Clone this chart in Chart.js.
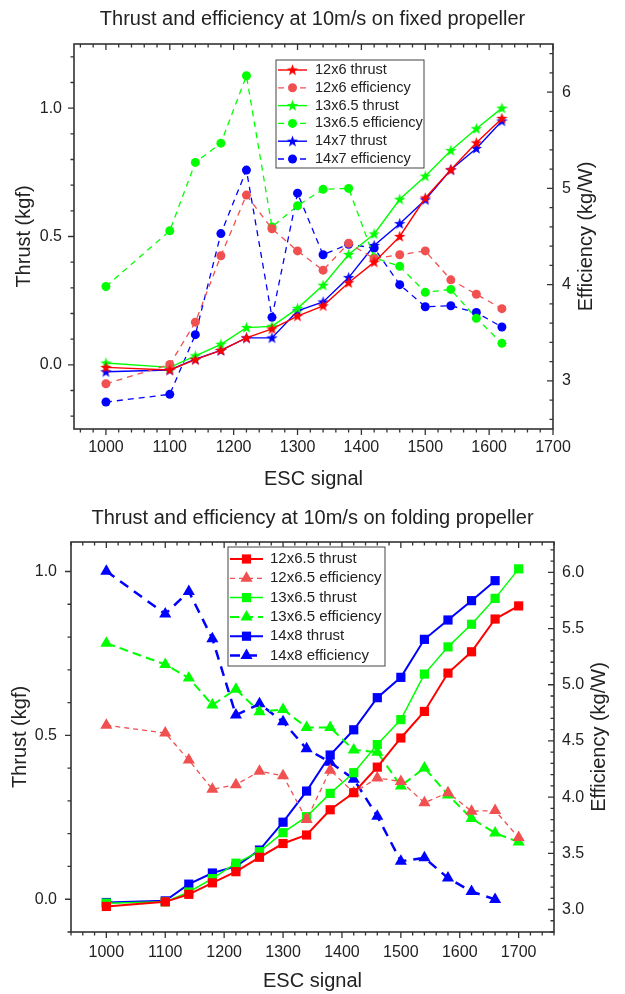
<!DOCTYPE html>
<html>
<head>
<meta charset="utf-8">
<script src="https://cdn.jsdelivr.net/npm/chart.js@4.4.1/dist/chart.umd.min.js"></script>
<style>
    body { margin: 0; background: #fff; }
    .box { position: absolute; left: 0; width: 625px; height: 497px; }
</style>
</head>
<body>
<div class="box" style="top:0"><canvas id="fixed"></canvas></div>
<div class="box" style="top:497px"><canvas id="folding"></canvas></div>
<script>
// ---- fixed propeller (top chart) ----
const escFixed = [1000, 1100, 1140, 1180, 1220, 1260, 1300, 1340, 1380, 1420, 1460, 1500, 1540, 1580, 1620];
const thrust12x6 = [-0.01, -0.02, 0.02, 0.056, 0.105, 0.14, 0.19, 0.23, 0.32, 0.40, 0.50, 0.65, 0.76, 0.865, 0.96];
const eff12x6 = [2.97, 3.17, 3.61, 4.30, 4.93, 4.58, 4.35, 4.15, 4.43, 4.27, 4.31, 4.35, 4.05, 3.90, 3.75];
const thrust13x65 = [0.007, -0.01, 0.035, 0.08, 0.145, 0.15, 0.22, 0.31, 0.43, 0.51, 0.645, 0.735, 0.835, 0.92, 1.0];
const eff13x65 = [3.98, 4.56, 5.27, 5.47, 6.17, 4.60, 4.82, 4.99, 5.00, 4.28, 4.19, 3.92, 3.95, 3.65, 3.39];
const thrust14x7 = [-0.027, -0.02, 0.022, 0.056, 0.105, 0.105, 0.21, 0.245, 0.34, 0.465, 0.55, 0.643, 0.76, 0.843, 0.95];
const eff14x7 = [2.78, 2.86, 3.48, 4.53, 5.19, 3.66, 4.95, 4.31, 4.42, 4.38, 4.00, 3.77, 3.78, 3.71, 3.56];

// ---- folding propeller (bottom chart) ----
const escFolding = [1000, 1100, 1140, 1180, 1220, 1260, 1300, 1340, 1380, 1420, 1460, 1500, 1540, 1580, 1620, 1660, 1700];
const thrust12x65f = [-0.022, -0.008, 0.015, 0.05, 0.084, 0.128, 0.17, 0.196, 0.273, 0.325, 0.403, 0.492, 0.573, 0.69, 0.755, 0.855, 0.895];
const eff12x65f = [4.64, 4.57, 4.33, 4.07, 4.11, 4.23, 4.19, 3.80, 4.24, 4.04, 4.17, 4.14, 3.95, 4.04, 3.875, 3.88, 3.64];
const thrust13x65f = [-0.012, -0.008, 0.022, 0.063, 0.11, 0.145, 0.203, 0.252, 0.323, 0.386, 0.472, 0.548, 0.687, 0.77, 0.839, 0.918, 1.008];
const eff13x65f = [5.37, 5.18, 5.06, 4.82, 4.96, 4.76, 4.78, 4.62, 4.62, 4.42, 4.40, 4.10, 4.26, 4.02, 3.81, 3.68, 3.60];
const thrust14x8f = [-0.01, -0.005, 0.046, 0.08, 0.10, 0.15, 0.235, 0.33, 0.44, 0.517, 0.615, 0.677, 0.793, 0.852, 0.911, 0.972];
const eff14x8f = [6.01, 5.63, 5.83, 5.41, 4.73, 4.83, 4.67, 4.43, 4.31, 4.16, 3.83, 3.43, 3.46, 3.28, 3.16, 3.09];

// tick labels
const escTicks = [1000, 1100, 1200, 1300, 1400, 1500, 1600, 1700];
const thrustTicks = [0, 0.5, 1.0];
const effTicksFixed = [3, 4, 5, 6];
const effTicksFolding = [3.0, 3.5, 4.0, 4.5, 5.0, 5.5, 6.0];

const RED = '#ff0000', RED_LIGHT = '#f05050', GREEN = '#00ff00', BLUE = '#0000ff';
const FONT = '"Liberation Sans", Arial, sans-serif';

Chart.defaults.font.family = FONT;
Chart.defaults.color = '#222';

function pts(xs, ys) {
    return ys.map((y, i) => ({ x: xs[i], y: y }));
}

// filled 5-point star like Origin's
function starImg(color) {
    const c = document.createElement('canvas');
    c.width = c.height = 13;
    const g = c.getContext('2d');
    g.beginPath();
    for (let i = 0; i < 10; i++) {
        const r = i % 2 ? 2.4 : 6;
        const a = -Math.PI / 2 + i * Math.PI / 5;
        g.lineTo(6.5 + r * Math.cos(a), 6.8 + r * Math.sin(a));
    }
    g.closePath();
    g.fillStyle = color;
    g.fill();
    return c;
}

function marks(scale, step, draw) {
    const n0 = Math.ceil(scale.min / step[1] - 1e-6);
    const n1 = Math.floor(scale.max / step[1] + 1e-6);
    for (let n = n0; n <= n1; n++) {
        const v = n * step[1];
        const q = v / step[0];
        const major = Math.abs(q - Math.round(q)) < 1e-6;
        draw(scale.getPixelForValue(v), major ? 6 : 3.5);
    }
}

// Origin style frame: outward ticks left/bottom, inward ticks top/right
// plus the right axis title, which reads bottom-to-top like the left one
const framePlugin = {
    id: 'frame',
    afterDraw(chart, args, o) {
        const ctx = chart.ctx, a = chart.chartArea;
        ctx.save();
        ctx.strokeStyle = '#333';
        ctx.lineWidth = 1.3;
        ctx.beginPath();
        marks(chart.scales.x, o.x, (p, len) => {
            ctx.moveTo(p, a.bottom); ctx.lineTo(p, a.bottom + len);
            ctx.moveTo(p, a.top); ctx.lineTo(p, a.top + len);
        });
        marks(chart.scales.y, o.y, (p, len) => {
            ctx.moveTo(a.left, p); ctx.lineTo(a.left - len, p);
        });
        marks(chart.scales.y1, o.y1, (p, len) => {
            ctx.moveTo(a.right, p); ctx.lineTo(a.right - len, p);
        });
        ctx.stroke();
        ctx.lineWidth = 1.6;
        ctx.strokeRect(a.left, a.top, a.right - a.left, a.bottom - a.top);

        ctx.translate(o.rightTitleX, (a.top + a.bottom) / 2);
        ctx.rotate(-Math.PI / 2);
        ctx.font = '20px ' + FONT;
        ctx.fillStyle = '#222';
        ctx.textAlign = 'center';
        ctx.textBaseline = 'middle';
        ctx.fillText('Efficiency (kg/W)', 0, 0);
        ctx.restore();
    }
};

function drawMarker(ctx, ds, x, y) {
    const st = ds.pointStyle, r = ds.pointRadius;
    if (st instanceof HTMLCanvasElement) {
        ctx.drawImage(st, x - st.width / 2, y - st.height / 2);
        return;
    }
    ctx.fillStyle = ds.borderColor;
    ctx.beginPath();
    if (st === 'circle') {
        ctx.arc(x, y, r, 0, 2 * Math.PI);
    } else if (st === 'rect') {
        const s = r * Math.SQRT1_2;
        ctx.rect(x - s, y - s, 2 * s, 2 * s);
    } else if (st === 'triangle') {
        ctx.moveTo(x, y - r);
        ctx.lineTo(x + r * 0.866, y + r / 2);
        ctx.lineTo(x - r * 0.866, y + r / 2);
        ctx.closePath();
    }
    ctx.fill();
}

const boxLegend = {
    id: 'boxLegend',
    afterDraw(chart, args, o) {
        const ctx = chart.ctx;
        ctx.save();
        ctx.fillStyle = '#fff';
        ctx.fillRect(o.left, o.top, o.width, o.height);
        ctx.strokeStyle = '#444';
        ctx.lineWidth = 1;
        ctx.strokeRect(o.left, o.top, o.width, o.height);
        ctx.font = o.font + 'px ' + FONT;
        ctx.textBaseline = 'middle';
        chart.data.datasets.forEach((ds, i) => {
            const y = o.row0 + i * o.rowH;
            ctx.strokeStyle = ds.borderColor;
            ctx.lineWidth = ds.borderWidth;
            ctx.setLineDash(ds.borderDash || []);
            ctx.beginPath();
            ctx.moveTo(o.line[0], y);
            ctx.lineTo(o.line[1], y);
            ctx.stroke();
            ctx.setLineDash([]);
            drawMarker(ctx, ds, (o.line[0] + o.line[1]) / 2, y);
            ctx.fillStyle = '#222';
            ctx.fillText(ds.label, o.text, y);
        });
        ctx.restore();
    }
};

function series(label, xs, ys, color, axis, style, radius, width, dash) {
    return {
        label: label,
        data: pts(xs, ys),
        yAxisID: axis,
        borderColor: color,
        backgroundColor: color,
        borderWidth: width,
        borderDash: dash,
        pointStyle: style,
        pointRadius: radius,
        pointBorderWidth: 0,
        pointBackgroundColor: color,
        tension: 0
    };
}

const noGrid = { display: false, drawTicks: false };

function axes(s) {
    return {
        x: {
            type: 'linear', min: s.xMin, max: s.xMax,
            afterBuildTicks: sc => { sc.ticks = escTicks.map(v => ({ value: v })); },
            afterFit: sc => { sc.height = s.xH; },
            grid: noGrid, border: { display: false },
            ticks: { font: { size: 16 }, padding: s.xPad, maxRotation: 0, callback: v => String(v) },
            title: { display: true, text: 'ESC signal', font: { size: 20 }, padding: { top: 0, bottom: s.xTitlePad } }
        },
        y: {
            type: 'linear', position: 'left', min: s.yMin, max: s.yMax,
            afterBuildTicks: sc => { sc.ticks = thrustTicks.map(v => ({ value: v })); },
            afterFit: sc => { sc.width = s.yW; },
            grid: noGrid, border: { display: false },
            ticks: { font: { size: 16 }, padding: s.yPad, callback: v => v.toFixed(1) },
            title: { display: true, text: 'Thrust (kgf)', font: { size: 20 }, padding: { top: s.yTitlePad, bottom: 0 } }
        },
        y1: {
            type: 'linear', position: 'right', min: s.y1Min, max: s.y1Max,
            afterBuildTicks: sc => { sc.ticks = s.y1Ticks.map(v => ({ value: v })); },
            afterFit: sc => { sc.width = s.y1W; },
            grid: noGrid, border: { display: false },
            ticks: { font: { size: 16 }, padding: s.y1Pad, callback: s.y1Fmt }
        }
    };
}

const star = { r: starImg(RED), g: starImg(GREEN), b: starImg(BLUE) };

new Chart(document.getElementById('fixed'), {
    type: 'line',
    data: {
        datasets: [
            series('12x6 thrust', escFixed, thrust12x6, RED, 'y', star.r, 5, 1.4, []),
            series('12x6 efficiency', escFixed, eff12x6, RED_LIGHT, 'y1', 'circle', 4.5, 1.3, [6, 5]),
            series('13x6.5 thrust', escFixed, thrust13x65, GREEN, 'y', star.g, 5, 1.4, []),
            series('13x6.5 efficiency', escFixed, eff13x65, GREEN, 'y1', 'circle', 4.5, 1.3, [6, 5]),
            series('14x7 thrust', escFixed, thrust14x7, BLUE, 'y', star.b, 5, 1.4, []),
            series('14x7 efficiency', escFixed, eff14x7, BLUE, 'y1', 'circle', 4.5, 1.3, [6, 5])
        ]
    },
    options: {
        responsive: true,
        maintainAspectRatio: false,
        animation: false,
        layout: { padding: 0 },
        scales: axes({
            xMin: 950, xMax: 1700, xH: 68, xPad: 9, xTitlePad: 6,
            yMin: -0.25, yMax: 1.25, yW: 74, yPad: 12, yTitlePad: 12,
            y1Min: 2.5, y1Max: 6.5, y1W: 72, y1Pad: 9,
            y1Ticks: effTicksFixed, y1Fmt: v => String(v)
        }),
        plugins: {
            legend: { display: false },
            tooltip: { enabled: false },
            title: {
                display: true,
                text: 'Thrust and efficiency at 10m/s on fixed propeller',
                font: { size: 20, weight: 'normal' },
                color: '#222',
                padding: { top: 7, bottom: 13 }
            },
            frame: { x: [100, 20], y: [0.5, 0.1], y1: [1, 0.2], rightTitleX: 586 },
            boxLegend: { left: 276, top: 60, width: 148, height: 108, row0: 70, rowH: 17.8, line: [278, 307], text: 315, font: 14.5 }
        }
    },
    plugins: [framePlugin, boxLegend]
});

new Chart(document.getElementById('folding'), {
    type: 'line',
    data: {
        datasets: [
            series('12x6.5 thrust', escFolding, thrust12x65f, RED, 'y', 'rect', 6.5, 2, []),
            series('12x6.5 efficiency', escFolding, eff12x65f, RED_LIGHT, 'y1', 'triangle', 7, 1.3, [5, 4]),
            series('13x6.5 thrust', escFolding, thrust13x65f, GREEN, 'y', 'rect', 6.5, 1.5, []),
            series('13x6.5 efficiency', escFolding, eff13x65f, GREEN, 'y1', 'triangle', 7, 2, [9, 5]),
            series('14x8 thrust', escFolding, thrust14x8f, BLUE, 'y', 'rect', 6.5, 2, []),
            series('14x8 efficiency', escFolding, eff14x8f, BLUE, 'y1', 'triangle', 7, 2.5, [10, 7])
        ]
    },
    options: {
        responsive: true,
        maintainAspectRatio: false,
        animation: false,
        layout: { padding: 0 },
        scales: axes({
            xMin: 940, xMax: 1760, xH: 62, xPad: 11, xTitlePad: 1,
            yMin: -0.1, yMax: 1.09, yW: 71, yPad: 14, yTitlePad: 8,
            y1Min: 2.8, y1Max: 6.27, y1W: 71, y1Pad: 8,
            y1Ticks: effTicksFolding, y1Fmt: v => v.toFixed(1)
        }),
        plugins: {
            legend: { display: false },
            tooltip: { enabled: false },
            title: {
                display: true,
                text: 'Thrust and efficiency at 10m/s on folding propeller',
                font: { size: 20, weight: 'normal' },
                color: '#222',
                padding: { top: 9, bottom: 12 }
            },
            frame: { x: [100, 20], y: [0.5, 0.1], y1: [0.5, 0.1], rightTitleX: 599 },
            boxLegend: { left: 228, top: 50, width: 157, height: 119, row0: 62, rowH: 19.3, line: [230, 263], text: 270, font: 15 }
        }
    },
    plugins: [framePlugin, boxLegend]
});
</script>
</body>
</html>
